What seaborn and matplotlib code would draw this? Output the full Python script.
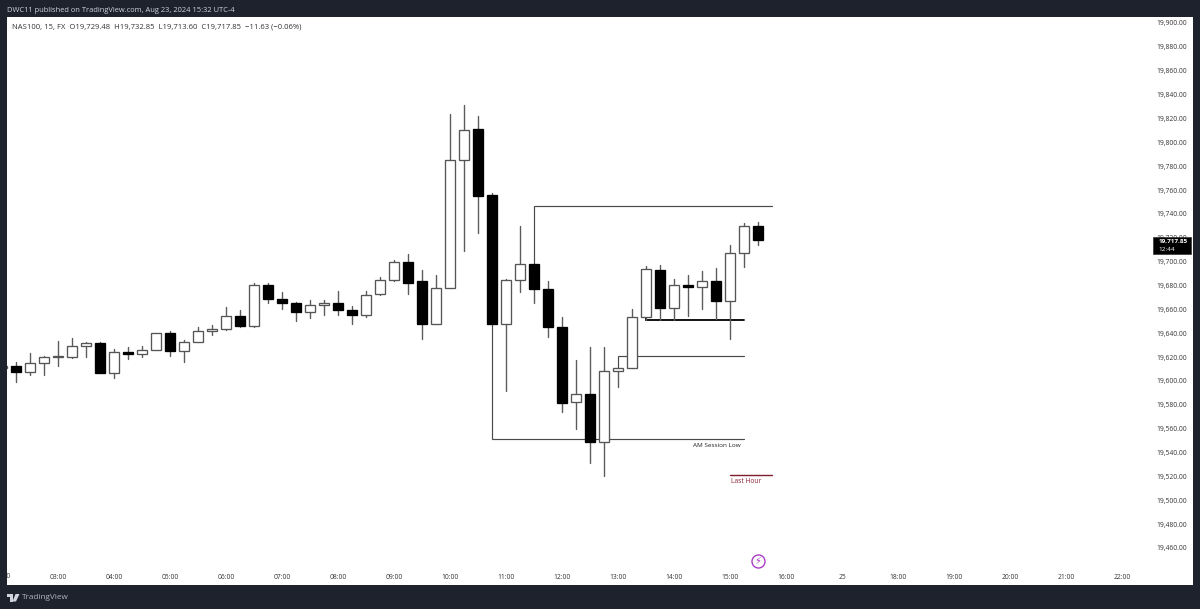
import matplotlib
matplotlib.use("Agg")
import matplotlib.pyplot as plt
from matplotlib.patches import Rectangle, Polygon
import numpy as np
import pandas as pd
import seaborn as sns

# ---- data ----
start_time = "02:00"
opens = [19610.5, 19612.5, 19607.7, 19615.3, 19620.3, 19620.3, 19629.0, 19631.8, 19606.9, 19624.2, 19622.3, 19626.2,
         19640.4, 19624.8, 19632.9, 19641.5, 19643.2, 19654.7, 19646.0, 19680.1, 19668.4, 19665.3, 19657.5, 19663.6,
         19665.3, 19659.1, 19655.2, 19672.6, 19684.9, 19699.9, 19683.5, 19648.0, 19677.9, 19785.2, 19811.4, 19755.6,
         19647.7, 19684.4, 19698.3, 19677.3, 19645.0, 19582.3, 19589.0, 19548.6, 19608.3, 19611.1, 19653.8, 19693.2,
         19660.9, 19680.7, 19679.0, 19684.0, 19667.0, 19707.0, 19729.48]
highs = [19612.5, 19616.1, 19623.1, 19620.9, 19633.4, 19635.7, 19632.9, 19632.9, 19626.5, 19628.1, 19629.5, 19640.4,
         19641.5, 19634.3, 19644.9, 19647.1, 19661.9, 19659.1, 19681.8, 19682.3, 19674.2, 19665.9, 19667.5, 19668.1,
         19675.4, 19663.1, 19675.6, 19687.4, 19701.3, 19706.1, 19692.7, 19688.5, 19823.5, 19831.0, 19822.1, 19757.8,
         19685.7, 19729.9, 19698.3, 19683.5, 19653.3, 19617.5, 19628.2, 19628.2, 19611.1, 19660.5, 19696.3, 19697.2,
         19685.4, 19689.0, 19692.1, 19694.4, 19713.7, 19732.4, 19732.85]
lows = [19610.5, 19599.4, 19605.2, 19605.2, 19612.5, 19618.9, 19620.3, 19606.9, 19602.1, 19618.1, 19620.3, 19625.6,
        19621.1, 19615.8, 19632.6, 19638.8, 19642.7, 19644.9, 19645.5, 19665.6, 19660.5, 19650.2, 19653.0, 19655.2,
        19655.5, 19647.4, 19653.8, 19672.0, 19684.0, 19672.9, 19635.2, 19648.0, 19677.9, 19709.2, 19724.0, 19647.7,
        19591.8, 19674.8, 19665.1, 19636.6, 19574.2, 19559.5, 19531.5, 19520.3, 19594.7, 19611.1, 19651.1, 19651.1,
        19651.1, 19654.7, 19660.3, 19651.9, 19635.2, 19695.8, 19713.60]
closes = [19612.5, 19607.5, 19615.3, 19619.8, 19620.6, 19629.0, 19632.0, 19606.9, 19623.9, 19622.3, 19626.2, 19640.4,
          19624.8, 19632.9, 19641.5, 19643.2, 19654.7, 19646.0, 19680.1, 19668.4, 19665.3, 19657.7, 19663.3, 19665.3,
          19659.1, 19655.2, 19672.3, 19684.9, 19699.9, 19682.3, 19648.0, 19677.9, 19785.4, 19810.6, 19755.0, 19647.7,
          19684.4, 19698.3, 19677.3, 19645.0, 19581.8, 19589.0, 19548.6, 19608.3, 19611.1, 19653.8, 19693.6, 19660.9,
          19680.7, 19679.0, 19684.0, 19667.0, 19707.0, 19729.48, 19717.85]

y_ticks = [19460 + 20 * i for i in range(23)]
x_tick_hours = [3, 4, 5, 6, 7, 8, 9, 10, 11, 12, 13, 14, 15, 16, 17, 18, 19, 20, 21, 22]
x_tick_labels = ["03:00", "04:00", "05:00", "06:00", "07:00", "08:00", "09:00", "10:00", "11:00", "12:00", "13:00",
                 "14:00", "15:00", "16:00", "25", "18:00", "19:00", "20:00", "21:00", "22:00"]

swing_high_h = [11.5, 11.5, 15.75]
swing_high_p = [19698.3, 19746.6, 19746.6]
session_low_h = [10.75, 10.75, 15.25]
session_low_p = [19647.7, 19551.3, 19551.3]
mid_h = [13.0, 13.0, 15.25]
mid_p = [19611.1, 19620.9, 19620.9]
support_h = [13.5, 13.5, 15.25]
support_p = [19653.8, 19650.8, 19650.8]
last_hour_h = [15.0, 15.75]
last_hour_p = [19520.9, 19520.9]

header = "DWC11 published on TradingView.com, Aug 23, 2024 15:32 UTC-4"
ohlc = "NAS100, 15, FX  O19,729.48  H19,732.85  L19,713.60  C19,717.85  \u221211.63 (\u22120.06%)"

# ---- frame ----
sns.set_theme(style="white")
plt.rcParams["font.family"] = ["Open Sans", "DejaVu Sans"]
DARK = "#1e222d"
TICK = "#333333"
W, H = 1200, 609
fig = plt.figure(figsize=(12, 6.09), dpi=100, facecolor=DARK)
ax = fig.add_axes([7 / W, 1 - 585 / H, (1193 - 7) / W, (585 - 17) / H], facecolor="white")

# ---- candles ----
t0 = pd.Timestamp("2024-08-23 " + start_time)
times = pd.date_range(t0, periods=len(opens), freq="15min")
df = pd.DataFrame({"hour": times.hour + times.minute / 60, "open": opens, "high": highs, "low": lows, "close": closes})
df["bar"] = range(len(df))
df["top"] = df[["open", "close"]].max(axis=1)
df["bottom"] = df[["open", "close"]].min(axis=1)
df["body"] = df["top"] - df["bottom"]

wicks = df.melt(id_vars=["bar", "hour"], value_vars=["low", "high"], value_name="price")
sns.lineplot(data=wicks, x="hour", y="price", units="bar", estimator=None, color="#5c5c5c",
             linewidth=1.0, legend=False, ax=ax, zorder=2)

for sel, face, edge in [(df.close >= df.open, "white", "#555555"), (df.close < df.open, "black", "black")]:
    part = df[sel]
    sns.barplot(data=part, x="hour", y="body", bottom=part["bottom"].values, native_scale=True, orient="x",
                errorbar=None, color=face, saturation=1, width=0.75, edgecolor=edge, linewidth=0.95,
                ax=ax, zorder=3)

# ---- drawn levels ----
for hs, ps, col, lw in [(swing_high_h, swing_high_p, "#4a4a4a", 0.85),
                        (session_low_h, session_low_p, "#4a4a4a", 0.85),
                        (mid_h, mid_p, "#4a4a4a", 0.85),
                        (support_h, support_p, "#000000", 1.3),
                        (last_hour_h, last_hour_p, "#7f1d2d", 1.0)]:
    ax.plot(hs, ps, color=col, linewidth=lw, zorder=1.5, solid_joinstyle="miter")

ax.text(15.19, 19546.0, "AM Session Low", ha="right", va="center", fontsize=4.6, color="#222222", zorder=4)
ax.text(15.29, 19516.0, "Last Hour", ha="center", va="center", fontsize=4.9, color="#8b2335", zorder=4)

# lightning badge
sns.scatterplot(x=[15.5], y=[19449.1], s=88, facecolor="white", edgecolor="#a93cc4", linewidth=1.0,
                legend=False, ax=ax, zorder=4)
ax.text(15.5, 19449.1, "\u26a1", ha="center", va="center", fontsize=7, color="#a93cc4",
        family=["DejaVu Sans"], zorder=5)

# ---- axes ----
ax.set_xlim(3 + (7 - 58) / 56, 3 + (1193 - 58) / 56)
ax.set_ylim(19900 - (585 - 23) * 20 / 23.86, 19900 + (23 - 17) * 20 / 23.86)
ax.set_xlabel("")
ax.set_ylabel("")
for s in ax.spines.values():
    s.set_visible(False)

ax.set_xticks(x_tick_hours, x_tick_labels)
ax.tick_params(axis="x", length=0, pad=-8.0, labelsize=4.9, labelcolor=TICK)
ax.text(2.0, 8 / 568, "02:00", transform=ax.get_xaxis_transform(), ha="center", va="center", fontsize=4.9,
        color=TICK, clip_on=True)

ax.yaxis.tick_right()
ax.set_yticks(y_ticks, [f"{v:,.2f}" for v in y_ticks])
ax.tick_params(axis="y", length=0, pad=-4.3, labelsize=4.9, labelcolor=TICK)
for lab in ax.get_yticklabels():
    lab.set_ha("right")

# last price label
ax.add_patch(Rectangle((22.55, 19706.0), 0.68, 14.6, facecolor="black", edgecolor="#333333", linewidth=0.5, zorder=7))
ax.text(22.65, 19717.0, "19,717.85", ha="left", va="center", fontsize=4.6, color="white", fontweight="bold", zorder=8)
ax.text(22.65, 19710.0, "12:44", ha="left", va="center", fontsize=4.6, color="white", zorder=8)

# ---- header / footer ----
fig.text(7 / W, 1 - 10 / H, header, color="#d1d4dc", fontsize=5.45, va="center", ha="left")
ax.text((12 - 7) / 1186, 1 - (27.3 - 17) / 568, ohlc, transform=ax.transAxes,
        color="#333338", fontsize=5.5, va="center", ha="left")
fig.text(22 / W, 1 - 597.5 / H, "TradingView", color="#b2b5be", fontsize=5.9, va="center", ha="left")


def px(pts):
    return [(x / W, 1 - y / H) for x, y in pts]


logo = "#d1d4dc"
fig.add_artist(Polygon(px([(7, 594), (12.5, 594), (12.5, 601.5), (10, 601.5), (10, 596.5), (7, 596.5)]),
                       closed=True, facecolor=logo, edgecolor="none", transform=fig.transFigure))
fig.add_artist(Polygon(px([(15.5, 594), (19.5, 594), (16, 601.5), (12.5, 601.5)]),
                       closed=True, facecolor=logo, edgecolor="none", transform=fig.transFigure))

fig.savefig("out.png", dpi=100, facecolor=DARK)
